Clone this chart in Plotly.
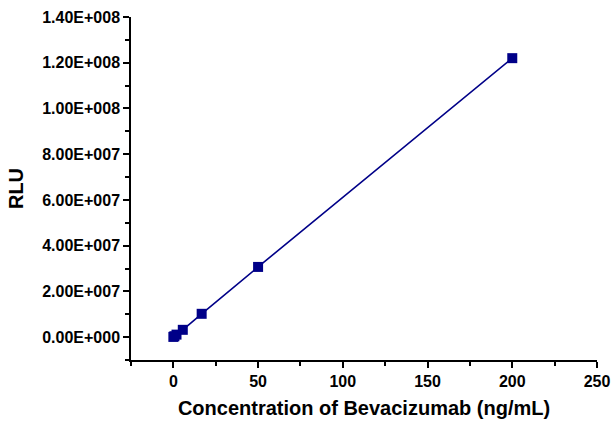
import plotly.graph_objects as go

conc = [0, 0.617, 1.85, 5.56, 16.7, 50, 200]
rlu = [1.0e5, 4.0e5, 1.1e6, 3.2e6, 1.02e7, 3.07e7, 1.22e8]

y_tickvals = [0, 2e7, 4e7, 6e7, 8e7, 1e8, 1.2e8, 1.4e8]
y_ticktext = ["0.00E+000", "2.00E+007", "4.00E+007", "6.00E+007",
              "8.00E+007", "1.00E+008", "1.20E+008", "1.40E+008"]
x_tickvals = [0, 50, 100, 150, 200, 250]

navy = "#000088"
font = "Liberation Sans, Arial, sans-serif"

fig = go.Figure()
fig.add_trace(go.Scatter(
    x=conc, y=rlu, mode="lines+markers",
    line=dict(color=navy, width=1.6),
    marker=dict(symbol="square", size=10, color=navy),
    showlegend=False,
))

fig.update_layout(
    width=613, height=423,
    margin=dict(l=131, r=16, t=17, b=63),
    paper_bgcolor="white", plot_bgcolor="white",
    font=dict(family=font, color="black"),
    xaxis=dict(
        range=[-25, 250], tickvals=x_tickvals, automargin=False,
        ticklabeloverflow="allow",
        ticks="outside", ticklen=6, tickwidth=1.5, tickcolor="black",
        showline=True, linecolor="black", linewidth=1.5,
        showgrid=False, zeroline=False,
        tickfont=dict(size=16, family=font, weight="bold"),
        minor=dict(tickvals=[-25, 25, 75, 125, 175, 225], ticks="outside",
                   ticklen=4, tickwidth=1.5, tickcolor="black", showgrid=False),
        title=dict(text="<b>Concentration of Bevacizumab (ng/mL)</b>",
                   font=dict(size=20, family=font), standoff=12),
    ),
    yaxis=dict(
        range=[-1e7, 1.4e8], tickvals=y_tickvals, ticktext=y_ticktext,
        automargin=False, ticklabeloverflow="allow",
        ticks="outside", ticklen=6, tickwidth=1.5, tickcolor="black",
        showline=True, linecolor="black", linewidth=1.5,
        showgrid=False, zeroline=False,
        tickfont=dict(size=16, family=font, weight="bold"),
        minor=dict(tickvals=[-1e7, 1e7, 3e7, 5e7, 7e7, 9e7, 1.1e8, 1.3e8],
                   ticks="outside", ticklen=4, tickwidth=1.5, tickcolor="black",
                   showgrid=False),
        title=dict(text="<b>RLU</b>", font=dict(size=20, family=font), standoff=13),
    ),
)

fig.write_html(
    "out.html",
    config={"displayModeBar": False},
    post_script="document.body.style.margin='0';document.body.style.overflow='hidden';",
)
